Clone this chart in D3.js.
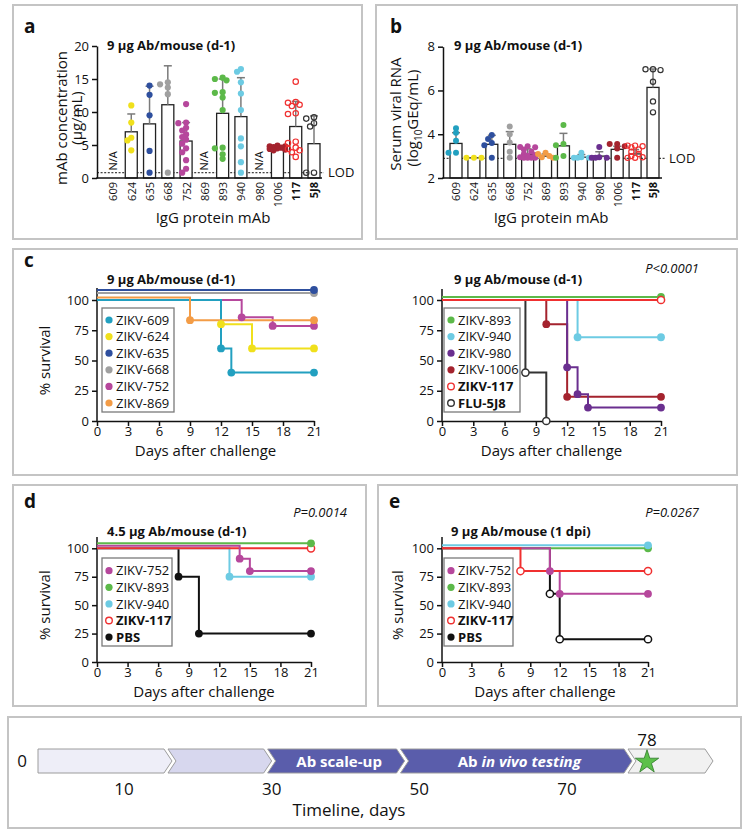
<!DOCTYPE html>
<html><head><meta charset="utf-8">
<script src="https://cdn.jsdelivr.net/npm/d3@7"></script>
<style>body{margin:0;background:#fff;} svg{display:block;font-family:'Open Sans',sans-serif;}</style>
</head><body><script>
// ================= DATA =================
const mabs = ["609","624","635","668","752","869","893","940","980","1006","117","5J8"];
const boldMabs = ["117","5J8"];
// panel a: mAb concentration (µg/mL)
const concTicks = [0,5,10,15,20];
const concLOD = 0.8;
const concMean = [null,7.0,8.2,11.1,5.6,null,9.8,9.3,null,4.4,7.8,5.2];
const concSD   = [null,2.7,5.7,5.9,2.8,null,5.2,5.9,null,0.3,3.8,4.2];
const concPoints = [
  [],
  [11.0,8.4,6.1,5.7,4.2],
  [14.0,12.6,9.5,4.1,0.8],
  [14.5,14.2,13.7,12.7,0.8],
  [11.2,8.4,8.3,7.6,7.2,6.6,6.2,5.8,5.2,4.5,3.9,2.7,1.4,0.8],
  [],
  [15.2,15.0,14.8,13.0,12.9,12.2,10.3,4.6,4.5,3.6,2.9],
  [16.5,16.1,14.5,12.8,10.3,6.0,4.8,2.4,0.8],
  [],
  [4.9,4.8,4.8,4.7,4.6,4.5,4.4,4.3,4.2],
  [14.6,11.5,11.4,11.1,10.9,9.8,9.7,5.5,5.3,4.6,4.4,4.2,3.9,3.2],
  [9.2,9.0,8.3,7.8,0.8,0.8]
];
// panel b: serum viral RNA (log10 GEq/mL)
const rnaTicks = [2,4,6,8];
const rnaLOD = 2.9;
const rnaMean = [3.58,2.92,3.54,3.54,3.08,3.0,3.47,2.95,3.0,3.31,3.1,6.14];
const rnaSD   = [0.49,0.0,0.41,0.58,0.25,0.1,0.57,0.12,0.2,0.14,0.2,0.84];
const rnaPoints = [
  [4.27,4.07,3.7,3.15,3.15],
  [2.92,2.92,2.92],
  [3.97,3.78,3.6,3.5,2.92],
  [4.35,4.0,3.62,3.2,2.92],
  [3.45,3.42,3.4,3.3,3.2,3.1,3.05,3.0,2.95,2.92,2.92,2.92,2.92],
  [3.15,3.1,3.0,2.95,2.92],
  [4.42,3.55,3.5,3.0,2.92],
  [3.15,2.95,2.92,2.92,2.92],
  [3.42,2.95,2.92,2.92,2.92],
  [3.55,3.55,3.45,3.35,2.92],
  [3.48,3.48,3.45,3.4,3.3,3.2,3.1,3.0,2.95,2.92,2.92],
  [6.97,6.97,6.93,6.4,5.5,5.0]
];
// survival panels
const survTicks = [0,25,50,75,100];
const dayTicks = [0,3,6,9,12,15,18,21];
const c1Names = ["ZIKV-609","ZIKV-624","ZIKV-635","ZIKV-668","ZIKV-752","ZIKV-869"];
const c1Days = [[0,12,13,21],[0,12,15,21],[0,21],[0,21],[0,14,17,21],[0,9,21]];
const c1Pct  = [[100,60,40,40],[100,80,60,60],[100,100],[100,100],[100,85.7,78.6,78.6],[100,83.3,83.3]];
const c2Names = ["ZIKV-893","ZIKV-940","ZIKV-980","ZIKV-1006","ZIKV-117","FLU-5J8"];
const c2Days = [[0,21],[0,13,21],[0,12,13,14,21],[0,10,12,21],[0,21],[0,8,10]];
const c2Pct  = [[100,100],[100,69.2,69.2],[100,44.4,22.2,11.1,11.1],[100,80,20,20],[100,100],[100,40,0]];
const dNames = ["ZIKV-752","ZIKV-893","ZIKV-940","ZIKV-117","PBS"];
const dDays = [[0,14,15,21],[0,21],[0,13,21],[0,21],[0,8,10,21]];
const dPct  = [[100,90.9,80,80],[100,100],[100,75,75],[100,100],[100,75,25,25]];
const eNames = ["ZIKV-752","ZIKV-893","ZIKV-940","ZIKV-117","PBS"];
const eDays = [[0,11,12,21],[0,21],[0,21],[0,8,21],[0,11,12,21]];
const ePct  = [[100,80,60,60],[100,100],[100,100],[100,80,80],[100,60,20,20]];
// timeline
const timelineTicks = [10,30,50,70];
const stageLabels = ["","","Ab scale-up","Ab in vivo testing",""];
const stageEnds = [16.5,30,48,76.5,84.6];
const milestoneDay = 78;

// ================= STYLE =================
const mabColor = {"609":"#22a0c0","624":"#f0e01c","635":"#2e4f9e","668":"#a0a0a0","752":"#b6479c",
  "869":"#f39c46","893":"#5cb949","940":"#6dcbe3","980":"#6a2f8f","1006":"#a4232e","117":"#f03030","5J8":"#333"};
const openMabs = ["117","5J8"];
const seriesColor = n => n==="PBS" ? "#111" : n==="FLU-5J8" ? "#333" : mabColor[n.replace("ZIKV-","")];
const boldNames = ["ZIKV-117","FLU-5J8","PBS"];

const svg = d3.select("body").append("svg").attr("width",750).attr("height",836);

// frames
[[13,5,349,234],[376,5,361,234],[13,249,724,226],[13,485,353,221],[378,485,359,221],[8,717,733,111]]
 .forEach(f=>svg.append("rect").attr("x",f[0]).attr("y",f[1]).attr("width",f[2]).attr("height",f[3])
   .attr("fill","none").attr("stroke","#c4c4c4").attr("stroke-width",2));

function txt(g,x,y,s,o={}){
  const t=g.append("text").attr("x",x).attr("y",y).text(s).attr("font-size",o.size||13)
    .attr("fill",o.fill||"#111");
  if(o.bold) t.attr("font-weight","bold");
  if(o.italic) t.attr("font-style","italic");
  if(o.anchor) t.attr("text-anchor",o.anchor);
  if(o.rot!==undefined) t.attr("transform",`rotate(${o.rot},${x},${y})`);
  return t;
}
function styleAxis(ag){
  ag.selectAll(".domain").attr("stroke","#111").attr("stroke-width",1.5);
  ag.selectAll(".tick line").attr("stroke","#111").attr("stroke-width",1.5);
  ag.selectAll(".tick text").attr("fill","#111").attr("font-size",13).attr("font-family","'Open Sans',sans-serif");
}

// compact swarm: horizontal offsets for points sharing a category
function swarm(vals,y,r){
  const placed=[];
  const order=vals.map((v,i)=>i).sort((a,b)=>vals[b]-vals[a]);
  const offs=[0,-1,1,-2,2];
  const step=r*1.25, thr=r*1.45;
  order.forEach(i=>{
    const py=y(vals[i]); let best=null, bestD=-1;
    for(const k of offs){
      const px=k*step;
      const md=placed.length?Math.min(...placed.map(p=>Math.hypot(p.x-px,p.y-py))):1e9;
      if(md>=thr){best=px;bestD=md;break;}
      if(md>bestD){bestD=md;best=px;}
    }
    placed.push({x:best,y:py});
  });
  return placed;
}

function barPanel(P){
  const g=svg.append("g");
  const x=d3.scalePoint().domain(mabs).range([P.cx0,P.cx1]);
  const y=d3.scaleLinear().domain(P.domain).range([P.yB,P.yT]);
  const base=P.domain[0];
  g.append("line").attr("x1",P.ax).attr("x2",P.lodX2).attr("y1",y(P.lod)).attr("y2",y(P.lod))
    .attr("stroke","#111").attr("stroke-width",1).attr("stroke-dasharray","2,1.6");
  txt(g,P.lodX2+4,y(P.lod)+4.5,"LOD",{size:13});
  mabs.forEach((m,i)=>{
    const mean=P.mean[i];
    if(mean==null){ txt(g,x(m)+4,y(P.naAt),"N/A",{size:11,anchor:"middle",rot:-90}); return; }
    g.append("rect").attr("x",x(m)-6).attr("y",y(mean)).attr("width",12).attr("height",y(base)-y(mean))
      .attr("fill","#fff").attr("stroke","#222").attr("stroke-width",1.3);
  });
  mabs.forEach((m,i)=>{
    const mean=P.mean[i]; if(mean==null||!P.sd[i]) return;
    const top=y(mean+P.sd[i]);
    g.append("line").attr("x1",x(m)).attr("x2",x(m)).attr("y1",y(mean)).attr("y2",top).attr("stroke","#7a7a7a").attr("stroke-width",1.5);
    g.append("line").attr("x1",x(m)-4).attr("x2",x(m)+4).attr("y1",top).attr("y2",top).attr("stroke","#7a7a7a").attr("stroke-width",1.5);
  });
  mabs.forEach((m,i)=>{
    const pts=swarm(P.points[i],y,P.r);
    const open=openMabs.includes(m);
    pts.forEach(p=>g.append("circle").attr("cx",x(m)+p.x).attr("cy",p.y).attr("r",open?P.r-0.4:P.r)
      .attr("fill",open?"none":mabColor[m])
      .attr("stroke",mabColor[m]).attr("stroke-width",open?1.2:0));
  });
  const yg=g.append("g").attr("transform",`translate(${P.ax},0)`)
    .call(d3.axisLeft(y).tickValues(P.ticks).tickFormat(d3.format("d")).tickSize(5).tickSizeOuter(0).tickPadding(3));
  styleAxis(yg);
  g.append("line").attr("x1",P.ax-0.75).attr("x2",P.axEnd).attr("y1",P.yB).attr("y2",P.yB).attr("stroke","#111").attr("stroke-width",1.5);
  const xg=g.append("g").attr("transform",`translate(0,${P.yB})`).call(d3.axisBottom(x).tickSize(0));
  xg.select(".domain").remove();
  xg.selectAll(".tick text").attr("transform","rotate(-90)").attr("text-anchor","end")
    .attr("x",-4).attr("y",0).attr("dy","0.36em").attr("font-size",11).attr("fill","#111")
    .attr("font-family","'Open Sans',sans-serif")
    .attr("font-weight",d=>boldMabs.includes(d)?"bold":"normal");
  txt(g,P.titleX,50,"9 µg Ab/mouse (d-1)",{size:13,bold:true});
  txt(g,P.letterX,33,P.letter,{size:19,bold:true});
  txt(g,P.xTitleX,223,"IgG protein mAb",{size:15,anchor:"middle"});
}

barPanel({letter:"a",letterX:24,titleX:107,cx0:113,cx1:314,ax:97,axEnd:322,yB:178,yT:46,domain:[0,20],
  ticks:concTicks,lod:concLOD,lodX2:324,mean:concMean,sd:concSD,points:concPoints,r:3.1,naAt:2.6,xTitleX:213});
barPanel({letter:"b",letterX:390,titleX:454,cx0:456,cx1:653,ax:443,axEnd:662,yB:178,yT:46.7,domain:[2,8],
  ticks:rnaTicks,lod:rnaLOD,lodX2:665,mean:rnaMean,sd:rnaSD,points:rnaPoints,r:3.0,naAt:3,xTitleX:551});
// y titles
(function(){
  const g=svg.append("g");
  txt(g,67,118,"mAb concentration",{size:15,anchor:"middle",rot:-90});
  txt(g,82,118,"(µg/mL)",{size:15,anchor:"middle",rot:-90});
  txt(g,401,114,"Serum viral RNA",{size:15,anchor:"middle",rot:-90});
  const t=g.append("text").attr("x",418).attr("y",118).attr("font-size",15).attr("text-anchor","middle")
    .attr("fill","#111").attr("transform","rotate(-90,418,118)");
  t.append("tspan").text("(log");
  t.append("tspan").text("10").attr("font-size",10).attr("dy",4);
  t.append("tspan").text("GEq/mL)").attr("dy",-4);
})();

function survPanel(P){
  const g=svg.append("g");
  const x=d3.scaleLinear().domain([0,21]).range([P.x0,P.x21]);
  const y=d3.scaleLinear().domain([0,100]).range([P.y0,P.y100]);
  const yg=g.append("g").attr("transform",`translate(${P.x0},0)`)
    .call(d3.axisLeft(y).tickValues(survTicks).tickSize(5).tickSizeOuter(0).tickPadding(3));
  yg.select(".domain").attr("d",`M0,${P.y0}V${P.yTop}`);
  styleAxis(yg);
  const xg=g.append("g").attr("transform",`translate(0,${P.y0})`)
    .call(d3.axisBottom(x).tickValues(dayTicks).tickSize(5).tickSizeOuter(0).tickPadding(1));
  styleAxis(xg);
  const line=(s)=>d3.line().x(d=>x(d.d)).y(d=>y(d.p)-(d.p===100?s.nudge:0)).curve(d3.curveStepAfter);
  const series=P.names.map((n,i)=>({name:n,days:P.days[i],pct:P.pct[i],nudge:(P.nudge[n]||0),
    open:(P.open||[]).includes(n)}));
  P.order.forEach(i=>{
    const s=series[i]; const pts=s.days.map((d,k)=>({d,p:s.pct[k]}));
    g.append("path").attr("d",line(s)(pts)).attr("fill","none").attr("stroke",seriesColor(s.name)).attr("stroke-width",2);
  });
  P.order.forEach(i=>{
    const s=series[i]; const c=seriesColor(s.name);
    s.days.forEach((d,k)=>{ if(k===0) return;
      const p=s.pct[k];
      g.append("circle").attr("cx",x(d)).attr("cy",y(p)-(p===100?s.nudge:0)).attr("r",s.open?3.6:3.9)
        .attr("fill",s.open?"#fff":c).attr("stroke",c).attr("stroke-width",s.open?1.5:0);
    });
  });
  const lg=g.append("g");
  lg.append("rect").attr("x",P.lx).attr("y",P.ly).attr("width",P.lw).attr("height",P.lh)
    .attr("fill","#fff").attr("stroke","#7a7a7a").attr("stroke-width",1.3);
  P.names.forEach((n,i)=>{
    const cy=P.ly+P.lfirst+i*16.6; const c=seriesColor(n);
    const open=(P.legendOpen||[]).includes(n);
    lg.append("circle").attr("cx",P.lx+7).attr("cy",cy).attr("r",open?3.3:3.6)
      .attr("fill",open?"#fff":c).attr("stroke",c).attr("stroke-width",open?1.4:0);
    txt(lg,P.lx+14,cy+4.6,n,{size:13,bold:boldNames.includes(n)});
  });
  txt(g,P.titleX,P.titleY,P.title,{size:13,bold:true});
  txt(g,(P.x0+P.x21)/2,P.y0+35,"Days after challenge",{size:15,anchor:"middle"});
  if(P.ytitle) txt(g,P.ytX,(P.y0+P.y100)/2,"% survival",{size:15,anchor:"middle",rot:-90});
  if(P.pval) txt(g,P.pX,P.pY,P.pval,{size:13,italic:true,anchor:"end"});
}

survPanel({names:c1Names,days:c1Days,pct:c1Pct,order:[1,4,0,5,3,2],nudge:{"ZIKV-635":10,"ZIKV-668":7,"ZIKV-869":2.5},
  x0:97,x21:314,y0:421,y100:300,yTop:288,lx:102,ly:308,lw:72,lh:104,lfirst:12,
  title:"9 µg Ab/mouse (d-1)",titleX:107,titleY:284,ytitle:true,ytX:50});
survPanel({names:c2Names,days:c2Days,pct:c2Pct,order:[5,3,2,1,0,4],nudge:{"ZIKV-893":3},
  open:["ZIKV-117","FLU-5J8"],legendOpen:["ZIKV-117","FLU-5J8"],
  x0:442,x21:661,y0:421,y100:300,yTop:289,lx:444,ly:308,lw:76,lh:104,lfirst:12,
  title:"9 µg Ab/mouse (d-1)",titleX:454,titleY:284,ytitle:false,pval:"P<0.0001",pX:699,pY:273});
survPanel({names:dNames,days:dDays,pct:dPct,order:[4,2,3,0,1],nudge:{"ZIKV-893":5,"ZIKV-752":2.6},
  open:["ZIKV-117"],legendOpen:["ZIKV-117"],
  x0:97,x21:311,y0:662,y100:548.3,yTop:537,lx:102,ly:558,lw:70,lh:88,lfirst:12.7,
  title:"4.5 µg Ab/mouse (d-1)",titleX:107,titleY:536,ytitle:true,ytX:50,pval:"P=0.0014",pX:347,pY:517});
survPanel({names:eNames,days:eDays,pct:ePct,order:[4,1,0,3,2],nudge:{"ZIKV-940":3},
  open:["ZIKV-117","PBS"],legendOpen:["ZIKV-117"],
  x0:442,x21:648,y0:662,y100:548.3,yTop:537,lx:444,ly:558,lw:69,lh:88,lfirst:12.7,
  title:"9 µg Ab/mouse (1 dpi)",titleX:451,titleY:536,ytitle:true,ytX:403,pval:"P=0.0267",pX:699,pY:517});
txt(svg,24,267,"c",{size:19,bold:true});
txt(svg,24,508,"d",{size:19,bold:true});
txt(svg,389,508,"e",{size:19,bold:true});

// ================= TIMELINE =================
(function(){
  const g=svg.append("g");
  const tx=d3.scaleLinear().domain([0,10,70,78]).range([38,124,567,647]);
  const top=749, bot=773, mid=(top+bot)/2, p=8;
  const fills=["#eeeef8","#d7d7ee","#5a5dab","#5a5dab","#f1f1f1"];
  let start=0;
  stageEnds.forEach((e,i)=>{
    const x0=tx(start)+(i?2:0), x1=tx(e);
    const pts = i===0
      ? [[x0,top],[x1-p,top],[x1,mid],[x1-p,bot],[x0,bot]]
      : [[x0-p+2,top],[x1-p,top],[x1,mid],[x1-p,bot],[x0-p+2,bot],[x0+2,mid]];
    g.append("path").attr("d","M"+pts.map(q=>q.join(",")).join("L")+"Z")
      .attr("fill",fills[i]).attr("stroke","#9c9c9c").attr("stroke-width",1);
    if(stageLabels[i]){
      const t=g.append("text").attr("x",(x0+x1)/2).attr("y",mid+5.5).attr("text-anchor","middle")
        .attr("font-size",15).attr("font-weight","bold").attr("fill","#fff");
      if(stageLabels[i].startsWith("Ab in")){
        t.append("tspan").text("Ab ");
        t.append("tspan").text("in vivo testing").attr("font-style","italic");
      } else t.text(stageLabels[i]);
    }
    start=e;
  });
  g.append("path").attr("d",d3.symbol(d3.symbolStar).size(170)())
    .attr("transform",`translate(${tx(milestoneDay)},${mid+1})`)
    .attr("fill","#5cc04a").attr("stroke","#2f7a2a").attr("stroke-width",0.8);
  txt(g,tx(milestoneDay),746,String(milestoneDay),{size:17,anchor:"middle"});
  txt(g,tx(0)-16,mid+6,"0",{size:17,anchor:"middle"});
  timelineTicks.forEach(d=>txt(g,tx(d),795,String(d),{size:17,anchor:"middle"}));
  txt(g,349,816,"Timeline, days",{size:17,anchor:"middle"});
})();
</script></body></html>
